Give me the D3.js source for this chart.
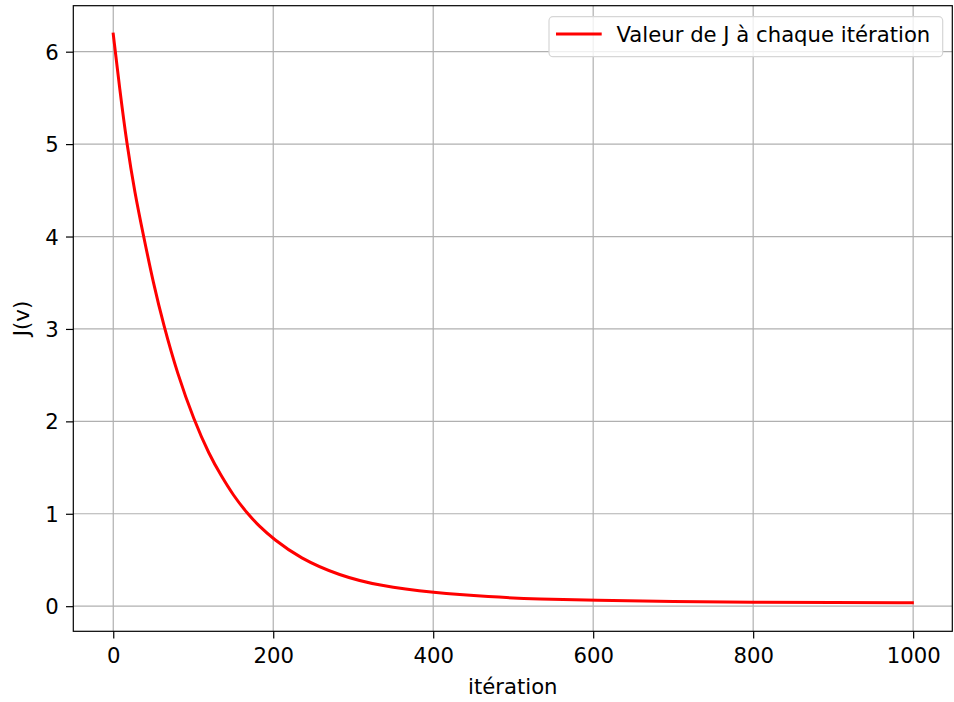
<!DOCTYPE html>
<html lang="fr">
<head>
  <meta charset="UTF-8">
  <title>Valeur de J</title>
  <script src="https://d3js.org/d3.v7.min.js"></script>
  <style>
    body { margin: 0; background: #fff; }
    svg { display: block; font-family: "DejaVu Sans", sans-serif; }
  </style>
</head>
<body>
  <div id="chart"></div>
  <script>
    // values
    const iterations = [0, 8, 17, 27, 38, 50, 63, 80, 101, 120, 135, 150, 167, 183, 200, 233, 283, 333, 400, 470, 533, 600, 700, 800, 900, 999];
    const jValues    = [6.19, 5.6, 5.0, 4.47, 4.0, 3.5, 3.04, 2.52, 2.01, 1.64, 1.41, 1.2, 1.01, 0.86, 0.73, 0.52, 0.33, 0.22, 0.145, 0.1, 0.077, 0.063, 0.05, 0.043, 0.039, 0.036];
    const xTicks = [0, 200, 400, 600, 800, 1000];
    const yTicks = [0, 1, 2, 3, 4, 5, 6];
    const legendLabel = "Valeur de J à chaque itération";

    const W = 954, H = 702;
    const box = {left: 73.3, right: 952.3, top: 5.7, bottom: 631.3};
    const fontSize = 21.2;

    const svg = d3.select("#chart").append("svg")
      .attr("width", W).attr("height", H);

    // matplotlib-like 5% margins
    const xMin = d3.min(iterations), xMax = d3.max(iterations);
    const yMin = d3.min(jValues), yMax = d3.max(jValues);
    const xPad = (xMax - xMin) * 0.05, yPad = (yMax - yMin) * 0.05;

    const x = d3.scaleLinear().domain([xMin - xPad, xMax + xPad]).range([box.left, box.right]);
    const y = d3.scaleLinear().domain([yMin - yPad, yMax + yPad]).range([box.bottom, box.top]);

    // grid
    const grid = svg.append("g").attr("stroke", "#b0b0b0").attr("stroke-width", 1.2);
    grid.selectAll(".gx").data(xTicks).enter().append("line")
      .attr("x1", d => x(d)).attr("x2", d => x(d))
      .attr("y1", box.top).attr("y2", box.bottom);
    grid.selectAll(".gy").data(yTicks).enter().append("line")
      .attr("y1", d => y(d)).attr("y2", d => y(d))
      .attr("x1", box.left).attr("x2", box.right);

    // curve
    const line = d3.line()
      .x((d, i) => x(iterations[i]))
      .y(d => y(d))
      .curve(d3.curveBasis);

    svg.append("path")
      .datum(jValues)
      .attr("d", line)
      .attr("fill", "none")
      .attr("stroke", "#ff0000")
      .attr("stroke-width", 3)
      .attr("stroke-linecap", "square");

    // axes with d3 axis generators
    const xAxis = d3.axisBottom(x).tickValues(xTicks).tickSize(7.3).tickPadding(7.3).tickFormat(d3.format("d"));
    const yAxis = d3.axisLeft(y).tickValues(yTicks).tickSize(7.3).tickPadding(7.3).tickFormat(d3.format("d"));

    const gx = svg.append("g").attr("transform", `translate(0,${box.bottom})`).call(xAxis);
    const gy = svg.append("g").attr("transform", `translate(${box.left},0)`).call(yAxis);

    [gx, gy].forEach(g => {
      g.select(".domain").remove();
      g.selectAll(".tick line").attr("stroke", "#000").attr("stroke-width", 1.2);
      g.selectAll(".tick text")
        .attr("fill", "#000")
        .style("font-family", "DejaVu Sans")
        .style("font-size", fontSize + "px");
    });
    gx.selectAll(".tick text").attr("dy", null).attr("y", 31.7);
    gy.selectAll(".tick text").attr("dy", null).attr("y", 7.6);

    // spines
    svg.append("rect")
      .attr("x", box.left).attr("y", box.top)
      .attr("width", box.right - box.left).attr("height", box.bottom - box.top)
      .attr("fill", "none").attr("stroke", "#000").attr("stroke-width", 1.2);

    // axis labels
    svg.append("text")
      .attr("x", (box.left + box.right) / 2).attr("y", 694)
      .attr("text-anchor", "middle")
      .style("font-size", fontSize + "px")
      .text("itération");

    svg.append("text")
      .attr("transform", `translate(29,${(box.top + box.bottom) / 2}) rotate(-90)`)
      .attr("text-anchor", "middle")
      .style("font-size", fontSize + "px")
      .text("J(v)");

    // legend
    const lg = svg.append("g");
    lg.append("rect")
      .attr("x", 549).attr("y", 16.7).attr("width", 393.7).attr("height", 40)
      .attr("rx", 4)
      .attr("fill", "rgba(255,255,255,0.8)")
      .attr("stroke", "#d6d6d6").attr("stroke-width", 1.2);
    lg.append("line")
      .attr("x1", 556).attr("x2", 601.7).attr("y1", 34).attr("y2", 34)
      .attr("stroke", "#ff0000").attr("stroke-width", 3);
    lg.append("text")
      .attr("x", 616.5).attr("y", 41.7)
      .style("font-size", fontSize + "px")
      .attr("fill", "#000")
      .text(legendLabel);
  </script>
</body>
</html>
